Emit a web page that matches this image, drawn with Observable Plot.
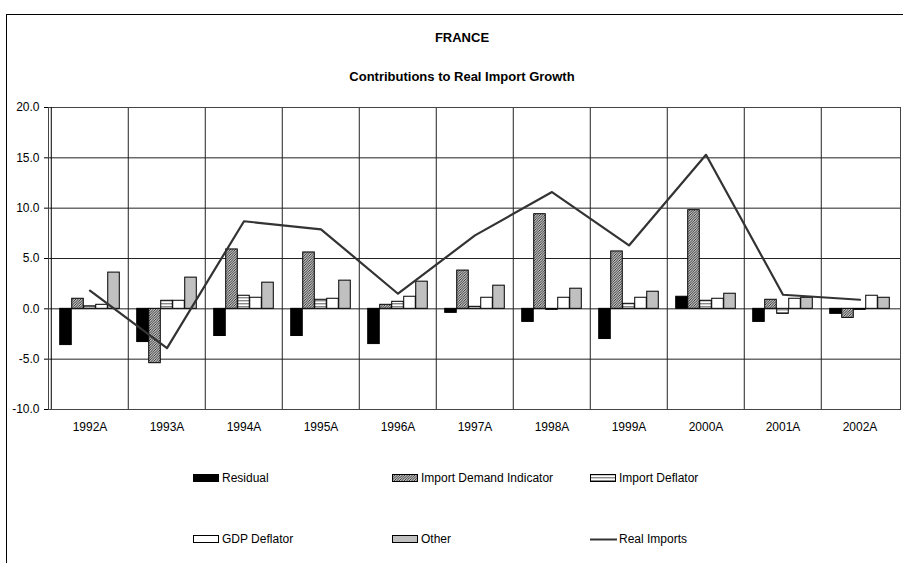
<!DOCTYPE html>
<html>
<head>
<meta charset="utf-8">
<script src="https://cdn.jsdelivr.net/npm/d3@7"></script>
<script src="https://cdn.jsdelivr.net/npm/@observablehq/plot@0.6"></script>
<style>
  html, body { margin: 0; padding: 0; background: #fff; }
  #wrap { position: relative; width: 903px; height: 563px; overflow: hidden; font-family: "Liberation Sans", Arial, sans-serif; }
  .frame { position: absolute; left: 6px; top: 14px; width: 1000px; height: 1000px; border: 1px solid #000; }
  .ttl { position: absolute; left: 0; width: 924px; text-align: center; font-weight: bold; font-size: 13px; line-height: 16px; color: #000; }
  .lg { position: absolute; font-size: 12px; line-height: 14px; color: #000; white-space: nowrap; }
  #chart { position: absolute; left: 0; top: 0; }
</style>
</head>
<body>
<div id="wrap">
  <div class="frame"></div>
  <div id="chart"></div>
  <div class="ttl" style="top:30px">FRANCE</div>
  <div class="ttl" style="top:69px">Contributions to Real Import Growth</div>
  <div id="legend"></div>
</div>
<script>
// ---- data ----
const years = ["1992A","1993A","1994A","1995A","1996A","1997A","1998A","1999A","2000A","2001A","2002A"];
const residual       = [-3.6, -3.3, -2.7, -2.7, -3.5, -0.4, -1.3, -3.0,  1.2, -1.3, -0.5];
const demandIndicator= [ 1.0, -5.4,  5.9,  5.6,  0.4,  3.8,  9.4,  5.7,  9.8,  0.9, -0.9];
const importDeflator = [ 0.25, 0.8,  1.3,  0.9,  0.7,  0.2, -0.1,  0.5,  0.8, -0.5, -0.1];
const gdpDeflator    = [ 0.4,  0.8,  1.1,  1.0,  1.2,  1.1,  1.1,  1.1,  1.0,  1.0,  1.3];
const other          = [ 3.6,  3.1,  2.6,  2.8,  2.7,  2.3,  2.0,  1.7,  1.5,  1.1,  1.1];
const realImports    = [ 1.8, -3.9,  8.7,  7.9,  1.5,  7.3, 11.6,  6.3, 15.3,  1.4,  0.9];
const yTicks = [-10, -5, 0, 5, 10, 15, 20];
const seriesNames = ["Residual","Import Demand Indicator","Import Deflator","GDP Deflator","Other"];
const seriesValues = [residual, demandIndicator, importDeflator, gdpDeflator, other];
const seriesFills = ["#000000","url(#hatch)","url(#hstripe)","#ffffff","#c0c0c0"];

const table = years.map((y, i) => ({year: y, real: realImports[i]}));

// ---- layout ----
const W = 903, H = 563, mL = 48, mR = 3, mT = 107, mB = 154;
const bw = (W - mL - mR) / years.length;
const groupPad = 0.1125 * bw;
const barW = (bw - 2 * groupPad) / seriesNames.length;

const barMarks = seriesValues.map((vals, s) =>
  Plot.barY(years.map((y, i) => ({year: y, v: vals[i]})), {
    x: "year", y1: () => 0, y2: "v",
    fill: seriesFills[s], stroke: "#000", strokeWidth: 1,
    insetLeft: groupPad + s * barW,
    insetRight: bw - groupPad - (s + 1) * barW
  })
);

const chart = Plot.plot({
  width: W, height: H,
  marginLeft: mL, marginRight: mR, marginTop: mT, marginBottom: mB,
  style: {background: "transparent", fontFamily: "'Liberation Sans', Arial, sans-serif", fontSize: "12px", color: "#000"},
  x: {domain: years, padding: 0, tickSize: 0, tickPadding: 13, label: null},
  y: {domain: [-10, 20], ticks: yTicks, tickFormat: d => d.toFixed(1), tickSize: 4, tickPadding: 5, label: null},
  marks: [
    Plot.ruleY(yTicks, {stroke: "#222", strokeWidth: 1}),
    Plot.ruleX(years.slice(1), {dx: -bw / 2, stroke: "#222", strokeWidth: 1}),
    ...barMarks,
    Plot.line(table, {x: "year", y: "real", stroke: "#333", strokeWidth: 2.2}),
    Plot.frame({stroke: "#444"}),
    Plot.ruleX([years[0]], {dx: -bw / 2, stroke: "#000", strokeWidth: 1})
  ]
});

// patterns
function addPatterns(defs, suffix) {
  const hatch = defs.append("pattern").attr("id", "hatch" + suffix).attr("patternUnits", "userSpaceOnUse")
    .attr("width", 2.5).attr("height", 2.5);
  hatch.append("rect").attr("width", 2.5).attr("height", 2.5).attr("fill", "#fff");
  hatch.append("path").attr("d", "M-1,1 L1,-1 M0,2.5 L2.5,0 M1.5,3.5 L3.5,1.5")
    .attr("stroke", "#111").attr("stroke-width", 0.85);
  const hs = defs.append("pattern").attr("id", "hstripe" + suffix).attr("patternUnits", "userSpaceOnUse")
    .attr("width", 4).attr("height", 3);
  hs.append("rect").attr("width", 4).attr("height", 3).attr("fill", "#fff");
  hs.append("rect").attr("y", 0).attr("width", 4).attr("height", 1.4).attr("fill", "#888");
}
addPatterns(d3.select(chart).insert("defs", ":first-child"), "");
document.getElementById("chart").appendChild(chart);

// legend
const legendItems = [
  {name: seriesNames[0], fill: seriesFills[0], x: 193, y: 478},
  {name: seriesNames[1], fill: seriesFills[1], x: 392, y: 478},
  {name: seriesNames[2], fill: seriesFills[2], x: 590, y: 478},
  {name: seriesNames[3], fill: seriesFills[3], x: 193, y: 539},
  {name: seriesNames[4], fill: seriesFills[4], x: 392, y: 539},
  {name: "Real Imports", line: true, x: 590, y: 539}
];
const leg = document.getElementById("legend");
const lsvg = d3.create("svg").attr("width", W).attr("height", H)
  .style("position", "absolute").style("left", 0).style("top", 0).style("pointer-events", "none");
addPatterns(lsvg.append("defs"), "L");
for (const it of legendItems) {
  if (it.line) {
    lsvg.append("line").attr("x1", it.x).attr("x2", it.x + 27).attr("y1", it.y + 0.5).attr("y2", it.y + 0.5)
      .attr("stroke", "#333").attr("stroke-width", 2);
  } else {
    lsvg.append("rect").attr("x", it.x + 0.5).attr("y", it.y - 3.5).attr("width", 25).attr("height", 7)
      .attr("fill", it.fill.replace("hatch", "hatchL").replace("hstripe", "hstripeL")).attr("stroke", "#000");
  }
  const t = document.createElement("div");
  t.className = "lg";
  t.style.left = (it.x + 29) + "px";
  t.style.top = (it.y - 7) + "px";
  t.textContent = it.name;
  leg.appendChild(t);
}
leg.appendChild(lsvg.node());
</script>
</body>
</html>
